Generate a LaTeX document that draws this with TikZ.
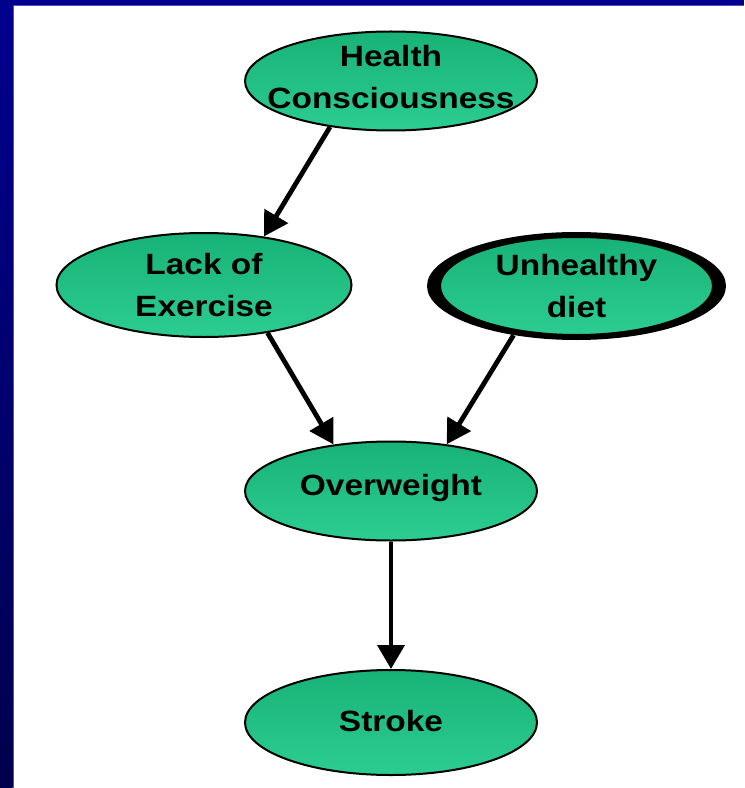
\documentclass[tikz,border=0pt]{standalone}
\usepackage{fontspec}
\usetikzlibrary{arrows.meta,shapes.geometric}
\newfontfamily\labfont[FakeStretch=1.14]{Liberation Sans}
\definecolor{frameTop}{RGB}{0,0,143}
\definecolor{frameBot}{RGB}{0,0,78}
\definecolor{frameEdge}{RGB}{80,80,196}
\definecolor{greenTop}{RGB}{24,178,118}
\definecolor{greenBot}{RGB}{44,205,145}
\tikzset{
  oval/.style={ellipse, draw=black, line width=1.5pt, top color=greenTop,
    bottom color=greenBot, inner sep=0pt},
  lab/.style={font=\labfont\bfseries\fontsize{22pt}{31.5pt}\selectfont,
    align=center, text=black, inner sep=0pt},
  link/.style={line width=3.6pt, -{Triangle[length=18pt,width=20pt]}},
}
\begin{document}
\begin{tikzpicture}[x=0.75pt, y=-0.75pt]
  \useasboundingbox (0,0) rectangle (744,788);
  % slide frame
  \fill[white] (0,0) rectangle (744,788);
  \fill[frameTop] (0,0) rectangle (744,5);
  \fill[frameEdge] (12.7,5) rectangle (14,788);
  \fill[frameEdge] (12.7,5) rectangle (744,6.3);
  \shade[top color=frameTop, bottom color=frameBot] (0,0) rectangle (12.7,788);

  % variables
  \node[oval, minimum width=219pt, minimum height=74.25pt,
        label={[lab, yshift=3pt]center:Health\\Consciousness}] (hc) at (391,81) {};
  \node[oval, minimum width=221.25pt, minimum height=78pt,
        label={[lab]center:Lack of\\Exercise}] (loe) at (204,285) {};
  \node[ellipse, fill=black, inner sep=0pt, minimum width=224.25pt,
        minimum height=81pt] (udrim) at (576.5,286) {};
  \node[oval, minimum width=204.75pt, minimum height=73.5pt,
        label={[lab]center:Unhealthy\\diet}] (ud) at (576.5,286) {};
  \node[oval, minimum width=219pt, minimum height=74.25pt,
        label={[lab, yshift=2pt]center:Overweight}] (ow) at (391,491) {};
  \node[oval, minimum width=219pt, minimum height=78.75pt,
        label={[lab, yshift=1pt]center:Stroke}] (st) at (391,722.5) {};

  % dependencies
  \draw[link] (hc.217) -- (loe.39);
  \draw[link] (loe.323) -- (ow.141);
  \draw[link] (udrim.218) -- (ow.40);
  \draw[link] (ow.south) -- (st.north);
\end{tikzpicture}
\end{document}
